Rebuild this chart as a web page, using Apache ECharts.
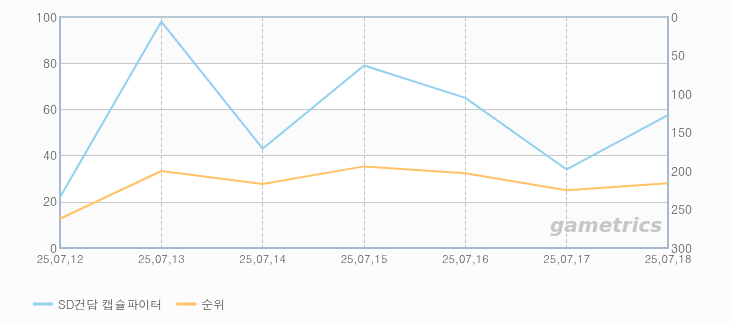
<!DOCTYPE html>
<html>
<head>
<meta charset="utf-8">
<script src="https://cdn.jsdelivr.net/npm/echarts@6/dist/echarts.min.js"></script>
<style>
  html, body { margin: 0; padding: 0; background: #fcfcfc; }
  #chart { width: 730px; height: 325px; }
</style>
</head>
<body>
<div id="chart"></div>
<script>
// dates on the x axis
const dates = ['25,07,12', '25,07,13', '25,07,14', '25,07,15', '25,07,16', '25,07,17', '25,07,18'];
// left axis series
const shareValues = [22, 98, 43, 79, 65, 34, 57.5];
// right axis (rank, inverted)
const rankValues = [262, 200, 217, 194, 203, 225, 216];

const seriesNames = ['SD건담 캡슐파이터', '순위'];

const chart = echarts.init(document.getElementById('chart'));

const font = 'Dotum, Gulim, "Noto Sans CJK KR", sans-serif';

chart.setOption({
    backgroundColor: '#fcfcfc',
    animation: false,
    textStyle: { fontFamily: font },
    grid: {
        left: 60,
        right: 62,
        top: 17,
        bottom: 77,
        show: true,
        borderColor: '#b2c6da',
        borderWidth: 2
    },
    legend: {
        left: 28,
        top: 293,
        icon: 'rect',
        itemWidth: 20,
        itemHeight: 3,
        itemGap: 14,
        textStyle: { color: '#555', fontSize: 12, fontFamily: font },
        data: seriesNames
    },
    xAxis: {
        type: 'category',
        boundaryGap: false,
        data: dates,
        axisLine: { lineStyle: { color: '#a8b8cc', width: 2 } },
        axisTick: { show: false },
        axisLabel: { color: '#555', fontSize: 11, margin: 5, showMinLabel: true, showMaxLabel: true },
        splitLine: { show: true, lineStyle: { color: '#c4c4c4', type: 'dashed', width: 1 } }
    },
    yAxis: [{
        type: 'value',
        min: 0,
        max: 100,
        interval: 20,
        axisLine: { show: true, lineStyle: { color: '#a8b8cc', width: 2 } },
        axisTick: { show: false },
        axisLabel: { color: '#555', fontSize: 12, margin: 3 },
        splitLine: { lineStyle: { color: '#c8c8c8' } },
        splitArea: { show: true, areaStyle: { color: ['#fbfbfb', '#ffffff'] } }
    }, {
        type: 'value',
        min: 0,
        max: 300,
        interval: 50,
        inverse: true,
        axisLine: { show: true, lineStyle: { color: '#a8b8cc', width: 2 } },
        axisTick: { show: false },
        axisLabel: { color: '#555', fontSize: 12, margin: 3 },
        splitLine: { show: false }
    }],
    graphic: [{
        type: 'text',
        x: 550,
        y: 217,
        z: 5,
        style: {
            text: 'gametrics',
            fill: '#c6c6c6',
            fontSize: 20,
            fontStyle: 'italic',
            fontWeight: 'bold',
            fontFamily: '"DejaVu Sans", sans-serif'
        }
    }],
    series: [{
        name: seriesNames[0],
        type: 'line',
        yAxisIndex: 0,
        data: shareValues,
        symbol: 'none',
        color: '#92d0ef',
        z: 6,
        lineStyle: { width: 2, color: '#92d0ef' }
    }, {
        name: seriesNames[1],
        type: 'line',
        yAxisIndex: 1,
        data: rankValues,
        symbol: 'none',
        color: '#ffc266',
        z: 6,
        lineStyle: { width: 2, color: '#ffc266' }
    }]
});
</script>
</body>
</html>
